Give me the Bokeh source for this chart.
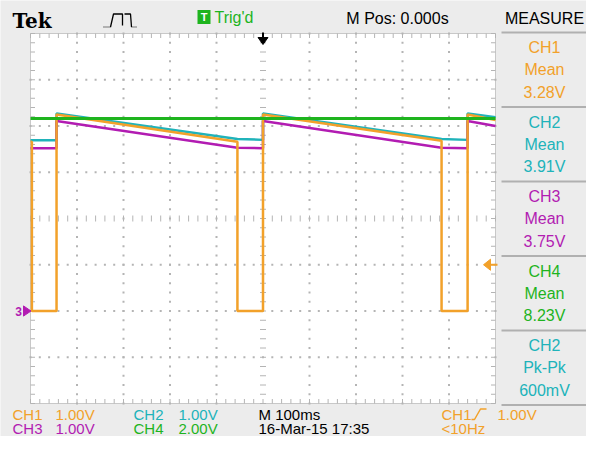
import numpy as np
from bokeh.plotting import figure
from bokeh.models import Range1d, Label
from bokeh.embed import file_html
from bokeh.resources import INLINE

# ---------------- data read from the scope screen ----------------
# time in ms (100 ms/div, trigger at 0), voltages in V
ch1_t = [-500, -497, -497, -444, -444, -55, -55, 0, 0, 384, 384, 440, 440, 500]
ch1_v = [3.66, 3.66, 0.0, 0.0, 4.25, 3.66, 0.0, 0.0, 4.25, 3.68, 0.0, 0.0, 4.25, 4.13]
ch2_t = [-500, -444, -444, -55, 0, 0, 384, 440, 440, 500]
ch2_v = [3.69, 3.69, 4.27, 3.72, 3.70, 4.27, 3.72, 3.70, 4.27, 4.19]
ch3_t = [-500, -444, -444, -55, 0, 0, 384, 440, 440, 500]
ch3_v = [3.52, 3.52, 4.11, 3.53, 3.52, 4.11, 3.53, 3.52, 4.11, 4.00]
ch4_t = [-500, 500]
ch4_v = [8.32, 8.32]

channels = ["CH1", "CH2", "CH3", "CH4"]
volts_per_div = [1.0, 1.0, 1.0, 2.0]
ground_div = [-2.0, -2.0, -2.0, -2.0]
scale_labels = ["1.00V", "1.00V", "1.00V", "2.00V"]
trigger_level = 1.0          # V on CH1
timebase = "M 100ms"
mpos = "M Pos: 0.000s"
date_text = "16-Mar-15 17:35"
freq_text = "<10Hz"
measures = [("CH1", "Mean", "3.28V"), ("CH2", "Mean", "3.91V"),
            ("CH3", "Mean", "3.75V"), ("CH4", "Mean", "8.23V"),
            ("CH2", "Pk-Pk", "600mV")]

colors = {"CH1": "#f2a12a", "CH2": "#20b3ba", "CH3": "#b21cb2", "CH4": "#1eb41e"}
BG = "#ececec"
GRID = "#b4b4b4"
FONT = "Liberation Sans"

# ---------------- layout helpers (canvas pixel -> plot units) ----------------
W, H = 586, 436
X0, X1, Y0, Y1 = 30, 495, 33, 403      # graticule box in pixels
MS_PX = 1000.0 / (X1 - X0)
DIV_PX = (Y1 - Y0) / 8.0

def X(px):
    return -500 + (px - X0) * MS_PX

def Y(py):
    return 4 - (py - Y0) / DIV_PX

p = figure(width=W, height=H, x_range=Range1d(X(0), X(W)),
           y_range=Range1d(Y(H), Y(0)), output_backend="svg",
           toolbar_location=None, min_border=0, x_axis_type=None,
           y_axis_type=None, outline_line_color=None,
           background_fill_color=BG, border_fill_color=BG)

for name, vpd, g in zip(channels, volts_per_div, ground_div):
    p.extra_y_ranges[name] = Range1d((Y(H) - g) * vpd, (Y(0) - g) * vpd)

# graticule
p.quad(left=-500, right=500, bottom=-4, top=4, fill_color="white",
       line_color="#c8c8c8", line_width=1)

# dotted division lines
vx = [x for x in range(-400, 401, 100) if x != 0]
ys = np.round(np.arange(-4, 4.001, 0.2), 3)
hy = [y for y in range(-3, 4) if y != 0]
xs = np.arange(-500, 500.1, 20)
dx = [x for x in vx for _ in ys] + [x for _ in hy for x in xs]
dy = [y for _ in vx for y in ys] + [y for y in hy for _ in xs]
p.scatter(dx, dy, marker="square", size=2, fill_color=GRID, line_color=None)

# centre-line minor ticks
p.scatter([0] * len(ys), ys, marker="dash", size=6, line_color=GRID, line_width=1)
p.scatter(xs, [0] * len(xs), marker="dash", size=6, angle=np.pi / 2,
          line_color=GRID, line_width=1)

# border ticks
tl_y = 4.5 / DIV_PX
tl_x = 4.5 * MS_PX
p.segment(x0=xs, y0=[4] * len(xs), x1=xs, y1=[4 - tl_y] * len(xs), line_color=GRID)
p.segment(x0=xs, y0=[-4] * len(xs), x1=xs, y1=[-4 + tl_y] * len(xs), line_color=GRID)
p.segment(x0=[-500] * len(ys), y0=ys, x1=[-500 + tl_x] * len(ys), y1=ys, line_color=GRID)
p.segment(x0=[500] * len(ys), y0=ys, x1=[500 - tl_x] * len(ys), y1=ys, line_color=GRID)

# traces
traces = {"CH1": (ch1_t, ch1_v), "CH2": (ch2_t, ch2_v),
          "CH3": (ch3_t, ch3_v), "CH4": (ch4_t, ch4_v)}
for name in ["CH2", "CH3", "CH1", "CH4"]:
    t, v = traces[name]
    p.line(t, v, y_range_name=name, line_color=colors[name],
           line_width=3 if name == "CH4" else 2.5)

# ground marker (0 V of the channels)
p.patch([X(23), X(23), X(30.5)], [0.11, -0.11, 0], y_range_name="CH3",
        fill_color=colors["CH3"], line_color=colors["CH3"])
p.add_layout(Label(x=X(18), y=0, y_range_name="CH3", text="3",
                   text_font=FONT, text_font_size="12px", text_font_style="bold",
                   text_color=colors["CH3"], text_align="center",
                   text_baseline="middle"))

# trigger level arrow (CH1)
p.patch([X(483), X(490), X(490)],
        [trigger_level, trigger_level + 0.12, trigger_level - 0.12],
        y_range_name="CH1", fill_color=colors["CH1"], line_color=colors["CH1"])
p.segment(x0=[X(489)], y0=[trigger_level], x1=[X(497)], y1=[trigger_level],
          y_range_name="CH1", line_color=colors["CH1"], line_width=2)

# trigger position arrow (t = 0)
p.patch([-5 * MS_PX, 5 * MS_PX, 0], [Y(37), Y(37), Y(44)],
        fill_color="black", line_color="black")
p.segment(x0=[0], y0=[Y(32)], x1=[0], y1=[Y(38)], line_color="black", line_width=2)

# ---------------- text helper ----------------
def lab(px, py, text, color="black", size="16px", align="left", font=FONT,
        style="normal"):
    p.add_layout(Label(x=X(px), y=Y(py), text=text, text_font=font,
                       text_font_size=size, text_font_style=style,
                       text_color=color, text_align=align,
                       text_baseline="middle"))

# ---------------- top bar ----------------
lab(12, 20, "Tek", size="20px", font="DejaVu Serif", style="bold")

# acquisition icon
p.line([X(103), X(110)], [Y(26.5), Y(26.5)], line_color="black", line_dash="1 1")
p.line([X(131), X(137)], [Y(26.5), Y(26.5)], line_color="black", line_dash="1 1")
p.line([X(110), X(113), X(122), X(122)], [Y(26.5), Y(13.5), Y(13.5), Y(25)],
       line_color="black", line_width=1.3)
p.line([X(124), X(130), X(131)], [Y(13.5), Y(13.5), Y(26.5)],
       line_color="black", line_width=1.3)

# trigger state
p.quad(left=X(197), right=X(210), bottom=Y(23.5), top=Y(9.5),
       fill_color=colors["CH4"], line_color=None)
lab(203.5, 16.5, "T", color="white", size="11px", align="center", style="bold")
lab(214, 16.5, "Trig'd", color=colors["CH4"])
lab(397, 17.5, mpos, align="center")

# ---------------- measurement panel ----------------
PC = 544
lab(PC, 17.5, "MEASURE", align="center")
seps = [32 + 74.5 * i for i in range(6)]
p.segment(x0=[X(501)] * 6, y0=[Y(s) for s in seps], x1=[X(586)] * 6,
          y1=[Y(s) for s in seps], line_color="#b0b0b0", line_width=2)
for s, (ch, kind, val) in zip(seps, measures):
    for dy_, txt in zip([15, 37, 59.5], [ch, kind, val]):
        lab(PC, s + dy_, txt, color=colors[ch], align="center")

# ---------------- bottom status ----------------
row1, row2 = 413.5, 428
FS = "15px"
for (cx, vx_, ry), ch, sl in zip([(12, 55, row1), (133, 178, row1),
                                   (12, 55, row2), (133, 178, row2)],
                                  channels, scale_labels):
    lab(cx, ry, ch, color=colors[ch], size=FS)
    lab(vx_, ry, sl, color=colors[ch], size=FS)
lab(258, row1, timebase, size=FS)
lab(258, row2, date_text, size=FS)
lab(441, row1, "CH1", color=colors["CH1"], size=FS)
p.line([X(471), X(474), X(480), X(486)], [Y(419), Y(419), Y(408.5), Y(408.5)],
       line_color=colors["CH1"], line_width=1.5)
lab(497, row1, "%.2fV" % trigger_level, color=colors["CH1"], size=FS)
lab(441, row2, freq_text, color=colors["CH1"], size=FS)

open("out.html", "w").write(file_html(p, INLINE))
